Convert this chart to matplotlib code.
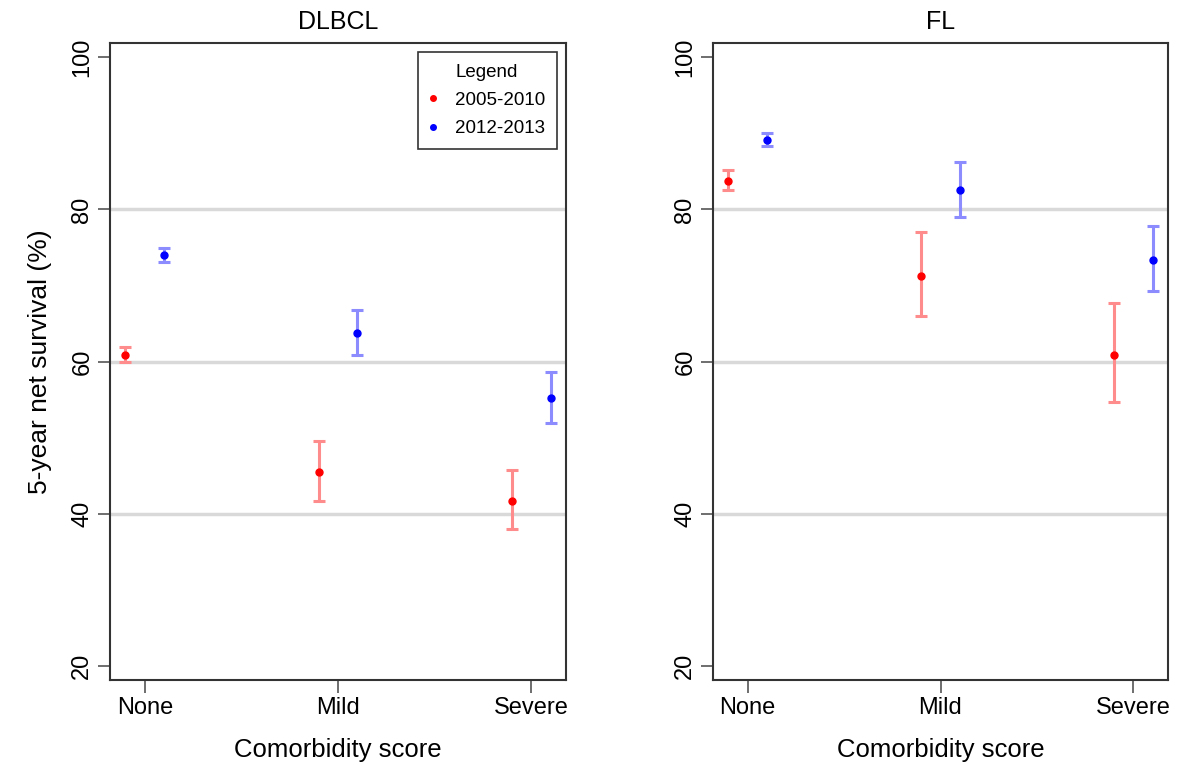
import matplotlib
matplotlib.use("Agg")
import matplotlib.pyplot as plt
from matplotlib.lines import Line2D

plt.rcParams['font.family'] = ['Liberation Sans', 'DejaVu Sans']

# comorbidity groups on the x axis
groups = ["None", "Mild", "Severe"]
periods = ["2005-2010", "2012-2013"]

# DLBCL: estimate, lower CI, upper CI
dlbcl_early = [60.9, 45.5, 41.6]
dlbcl_early_lo = [59.9, 41.7, 38.0]
dlbcl_early_hi = [61.9, 49.6, 45.7]
dlbcl_late = [74.0, 63.8, 55.2]
dlbcl_late_lo = [73.1, 60.8, 51.9]
dlbcl_late_hi = [74.9, 66.8, 58.6]

# FL
fl_early = [83.8, 71.3, 60.9]
fl_early_lo = [82.5, 66.0, 54.7]
fl_early_hi = [85.2, 77.0, 67.7]
fl_late = [89.2, 82.5, 73.4]
fl_late_lo = [88.4, 79.0, 69.3]
fl_late_hi = [90.0, 86.2, 77.8]

yticks = [20, 40, 60, 80, 100]
gridlines = [40, 60, 80]

dot_cols = ["#ff0000", "#0000ff"]
bar_cols = ["#ff8c8c", "#8c8cff"]

fig = plt.figure(figsize=(11.82, 7.69), dpi=100)
ax1 = fig.add_axes([110 / 1182, 1 - 680 / 769, 456 / 1182, 637 / 769])
ax2 = fig.add_axes([713 / 1182, 1 - 680 / 769, 455 / 1182, 637 / 769])

panels = [
    (ax1, "DLBCL", [(dlbcl_early, dlbcl_early_lo, dlbcl_early_hi),
                    (dlbcl_late, dlbcl_late_lo, dlbcl_late_hi)]),
    (ax2, "FL", [(fl_early, fl_early_lo, fl_early_hi),
                 (fl_late, fl_late_lo, fl_late_hi)]),
]

xpos = [1, 2, 3]
offsets = [-0.1, 0.1]

for ax, title, series in panels:
    for yg in gridlines:
        ax.axhline(yg, color="#d9d9d9", lw=2.5, zorder=0)
    for k, (est, lo, hi) in enumerate(series):
        xs = [x + offsets[k] for x in xpos]
        err = [[e - l for e, l in zip(est, lo)], [h - e for e, h in zip(est, hi)]]
        ax.errorbar(xs, est, yerr=err, fmt="none", ecolor=bar_cols[k],
                    elinewidth=2.2, capsize=4.5, capthick=2.2, zorder=2)
        ax.plot(xs, est, "o", color=dot_cols[k], ms=5, zorder=3)
    ax.set_xlim(0.82, 3.18)
    ax.set_ylim(18.1, 101.9)
    ax.set_xticks(xpos)
    ax.set_xticklabels(groups, fontsize=17)
    ax.set_yticks(yticks)
    ax.set_yticklabels([str(t) for t in yticks], fontsize=17, rotation=90,
                       va="center")
    ax.tick_params(axis="both", length=9, width=1.2, color="#555555", pad=3)
    for s in ax.spines.values():
        s.set_color("#333333")
        s.set_linewidth(1.5)
    ax.set_title(title, fontsize=18, pad=10)
    ax.set_xlabel("Comorbidity score", fontsize=18.5, labelpad=14)

ax1.set_ylabel("5-year net survival (%)", fontsize=19, labelpad=14)

handles = [Line2D([], [], ls="none", marker="o", ms=4, color=c) for c in dot_cols]
leg = ax1.legend(handles, periods, title="Legend", loc="upper right",
                 fontsize=13.5, title_fontsize=13.5, frameon=True, fancybox=False,
                 edgecolor="black", borderaxespad=0.5, borderpad=0.6,
                 handlelength=0.4, handletextpad=1.0, labelspacing=0.6)
leg.get_frame().set_linewidth(1.2)

fig.savefig("out.png", dpi=100)
